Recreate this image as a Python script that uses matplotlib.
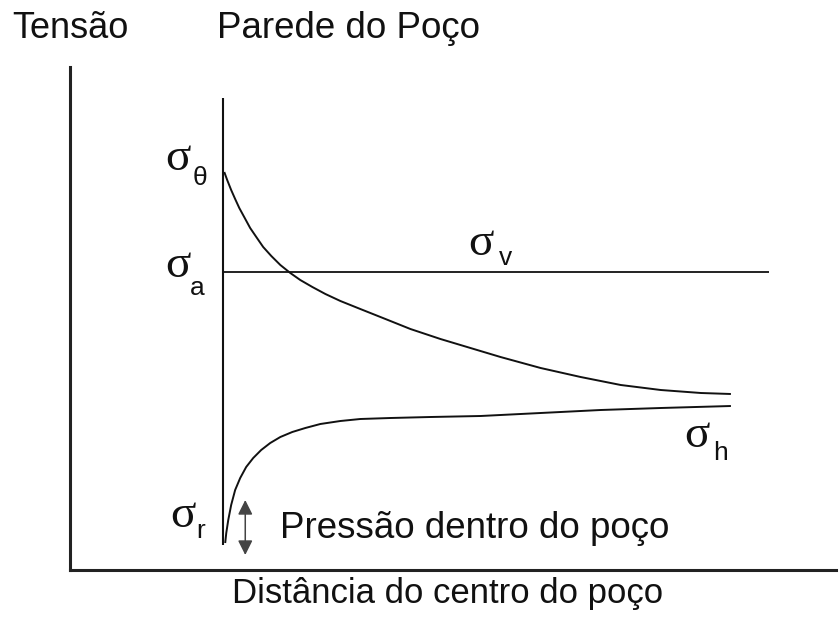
import matplotlib
matplotlib.use("Agg")
import matplotlib.pyplot as plt

# distance from well centre (r/a, wall at 1.0) and stress (arbitrary units)
wall_r = 1.0
wall_top = 4.72
wall_bottom = 0.25

theta_r = [1.007, 1.026, 1.052, 1.078, 1.105, 1.137, 1.176, 1.216, 1.261,
           1.314, 1.373, 1.438, 1.503, 1.582, 1.667, 1.765, 1.895, 2.059,
           2.222, 2.418, 2.614, 2.810, 3.072, 3.333, 3.595, 3.856, 4.118, 4.314]
theta_s = [3.98, 3.90, 3.80, 3.71, 3.62, 3.53, 3.42, 3.33, 3.23,
           3.14, 3.05, 2.97, 2.90, 2.83, 2.76, 2.69, 2.61, 2.51,
           2.41, 2.31, 2.22, 2.13, 2.02, 1.93, 1.85, 1.80, 1.77, 1.76]

radial_r = [1.013, 1.020, 1.033, 1.052, 1.078, 1.111, 1.150, 1.196, 1.248,
            1.307, 1.373, 1.451, 1.536, 1.634, 1.765, 1.895, 2.092, 2.353,
            2.680, 3.072, 3.464, 3.856, 4.314]
radial_s = [0.27, 0.37, 0.50, 0.65, 0.80, 0.92, 1.03, 1.12, 1.20,
            1.27, 1.33, 1.38, 1.42, 1.46, 1.49, 1.51, 1.52, 1.53,
            1.54, 1.57, 1.60, 1.62, 1.64]

sigma_v = 2.98
sigma_v_end = 4.56

# well pressure arrow (stress range)
pw_r = 1.144
pw_low, pw_high = 0.15, 0.70

plt.rcParams['font.family'] = ['Liberation Sans', 'DejaVu Sans']

fig = plt.figure(figsize=(8.39, 6.3), dpi=100)
ax = fig.add_axes([70 / 839, 60 / 630, 766 / 839, 503 / 630])
ax.set_xlim(0, 5.0)
ax.set_ylim(0, 5.03)
for side in ['top', 'right']:
    ax.spines[side].set_visible(False)
for side in ['left', 'bottom']:
    ax.spines[side].set_linewidth(2.2)
    ax.spines[side].set_color('#222222')
ax.set_xticks([])
ax.set_yticks([])

line_kw = dict(color='#111111', solid_joinstyle='round', solid_capstyle='butt')

# borehole wall
ax.plot([wall_r, wall_r], [wall_bottom, wall_top], lw=1.5, **line_kw)

# stress curves
ax.plot([wall_r, sigma_v_end], [sigma_v, sigma_v], lw=1.3, **line_kw)
ax.plot(theta_r, theta_s, lw=1.4, **line_kw)
ax.plot(radial_r, radial_s, lw=1.4, **line_kw)

ax.annotate('', xy=(pw_r, pw_high), xytext=(pw_r, pw_low),
            arrowprops=dict(arrowstyle='<|-|>', color='#444444', lw=1.1,
                            mutation_scale=22, shrinkA=0, shrinkB=0))


def sigma_label(x, y, sub, sx, sy):
    ax.text(x, y, 'σ', fontsize=34, family=['Liberation Serif', 'DejaVu Serif'],
            ha='left', va='baseline', color='#111111')
    ax.text(sx, sy, sub, fontsize=19, ha='left', va='baseline', color='#111111')


sigma_label(0.62, 4.00, 'θ', 0.80, 3.85)
sigma_label(0.62, 2.93, 'a', 0.785, 2.75)
sigma_label(2.60, 3.15, 'v', 2.80, 3.05)
sigma_label(4.01, 1.23, 'h', 4.20, 1.10)
sigma_label(0.655, 0.43, 'r', 0.825, 0.32)

ax.text(1.37, 0.32, 'Pressão dentro do poço', fontsize=26.5, ha='left',
        va='baseline', color='#111111')

fig.text(12 / 839, 1 - 38 / 630, 'Tensão', fontsize=26, ha='left',
         va='baseline', color='#111111')
fig.text(217 / 839, 1 - 38 / 630, 'Parede do Poço', fontsize=26.5, ha='left',
         va='baseline', color='#111111')
fig.text(232 / 839, 1 - 603 / 630, 'Distância do centro do poço', fontsize=25,
         ha='left', va='baseline', color='#111111')

fig.savefig('out.png', dpi=100, facecolor='white')
